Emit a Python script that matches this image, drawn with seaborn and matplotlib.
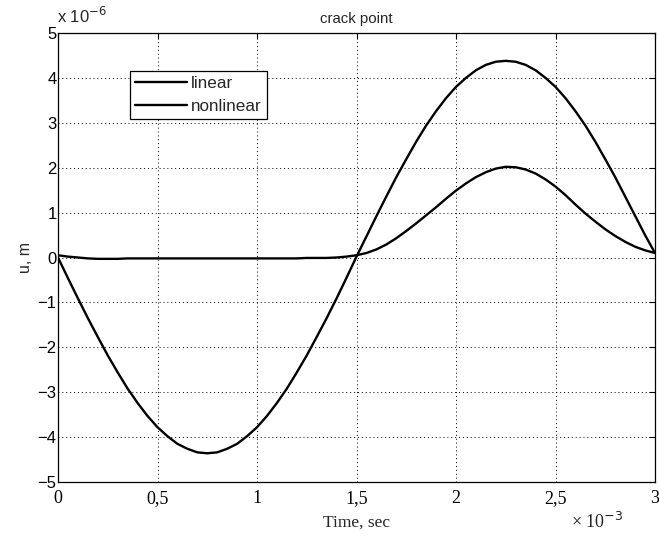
import matplotlib
matplotlib.use("Agg")
import matplotlib.pyplot as plt
import seaborn as sns
import pandas as pd
from matplotlib.lines import Line2D

# time in units of 1e-3 s (0 to 3 in steps of 0.05), displacement in units of 1e-6 m
time_ms = [0.00, 0.05, 0.10, 0.15, 0.20, 0.25, 0.30, 0.35, 0.40, 0.45,
           0.50, 0.55, 0.60, 0.65, 0.70, 0.75, 0.80, 0.85, 0.90, 0.95,
           1.00, 1.05, 1.10, 1.15, 1.20, 1.25, 1.30, 1.35, 1.40, 1.45,
           1.50, 1.55, 1.60, 1.65, 1.70, 1.75, 1.80, 1.85, 1.90, 1.95,
           2.00, 2.05, 2.10, 2.15, 2.20, 2.25, 2.30, 2.35, 2.40, 2.45,
           2.50, 2.55, 2.60, 2.65, 2.70, 2.75, 2.80, 2.85, 2.90, 2.95, 3.00]
linear = [0.00, -0.46, -0.91, -1.35, -1.77, -2.18, -2.56, -2.92, -3.24, -3.53,
          -3.78, -3.98, -4.15, -4.26, -4.34, -4.36, -4.34, -4.26, -4.15, -3.98,
          -3.78, -3.53, -3.24, -2.92, -2.56, -2.18, -1.77, -1.35, -0.91, -0.45,
          0.02, 0.47, 0.92, 1.36, 1.79, 2.19, 2.58, 2.94, 3.26, 3.55,
          3.80, 4.00, 4.17, 4.29, 4.36, 4.38, 4.36, 4.29, 4.17, 4.00,
          3.80, 3.55, 3.26, 2.94, 2.58, 2.19, 1.79, 1.36, 0.93, 0.50, 0.10]
nonlinear = [0.05, 0.02, 0.00, -0.02, -0.03, -0.03, -0.03, -0.02, -0.02, -0.02,
             -0.02, -0.02, -0.02, -0.02, -0.02, -0.02, -0.02, -0.02, -0.02, -0.02,
             -0.02, -0.02, -0.02, -0.02, -0.02, -0.01, -0.01, -0.01, 0.00, 0.02,
             0.05, 0.10, 0.18, 0.29, 0.43, 0.59, 0.76, 0.94, 1.12, 1.31,
             1.49, 1.65, 1.79, 1.90, 1.98, 2.02, 2.01, 1.96, 1.87, 1.74,
             1.58, 1.39, 1.18, 0.98, 0.80, 0.63, 0.48, 0.35, 0.24, 0.16, 0.10]

xticks = [0, 0.5, 1, 1.5, 2, 2.5, 3]
xticklabels = ["0", "0,5", "1", "1,5", "2", "2,5", "3"]
yticks = [-5, -4, -3, -2, -1, 0, 1, 2, 3, 4, 5]
series_names = ["linear", "nonlinear"]

sns.set_style("white")
plt.rcParams['font.family'] = ['Liberation Sans', 'DejaVu Sans']

fig = plt.figure(figsize=(6.59, 5.35), dpi=100)
ax = fig.add_axes([58/659, 1 - 482/535, (655-58)/659, (482-33)/535])

df = pd.DataFrame({"t": time_ms * 2,
                   "u": linear + nonlinear,
                   "series": [series_names[0]] * len(time_ms) + [series_names[1]] * len(time_ms)})
sns.lineplot(data=df, x="t", y="u", hue="series", palette=["black", "black"],
             linewidth=1.7, ax=ax, legend=False, sort=False, estimator=None)

ax.set_xlim(0, 3)
ax.set_ylim(-5, 5)
ax.set_xticks(xticks)
ax.set_xticklabels(xticklabels, family=['Liberation Serif'], fontsize=13)
ax.set_yticks(yticks)
ax.set_yticklabels(["\u2212" + str(-v) if v < 0 else str(v) for v in yticks], fontsize=12)
ax.tick_params(direction='in', length=4, width=0.8, top=True, right=True,
               colors='black')
ax.tick_params(axis='x', pad=6)
ax.tick_params(axis='y', pad=1)
for s in ax.spines.values():
    s.set_visible(True)
    s.set_color('black')
    s.set_linewidth(0.9)
ax.grid(True, linestyle=(0, (1, 3)), color='black', linewidth=0.7)

ax.set_xlabel("Time, sec", family=['Liberation Serif'], fontsize=12.5, labelpad=5)
ax.set_ylabel("u, m", fontsize=11.5, labelpad=3)
ax.set_title("crack point", fontsize=10.8, pad=7)

fig.text(57/659, 1 - 16/535, "x 10$^{-6}$", fontsize=12, ha='left', va='center')
fig.text(571/659, 1 - 522/535, "\u00d7 10$^{-3}$", family=['Liberation Serif'],
         fontsize=13, ha='left', va='center')

handles = [Line2D([], [], color='black', lw=1.7), Line2D([], [], color='black', lw=1.7)]
leg = ax.legend(handles, series_names, loc='upper left',
                bbox_to_anchor=(0.121, 0.916), borderaxespad=0, fancybox=False,
                framealpha=1, edgecolor='black', fontsize=12.3, handlelength=3.0,
                handletextpad=0.25, borderpad=0.3, labelspacing=0.45)
leg.get_frame().set_linewidth(0.9)

fig.savefig("out.png", dpi=100)
